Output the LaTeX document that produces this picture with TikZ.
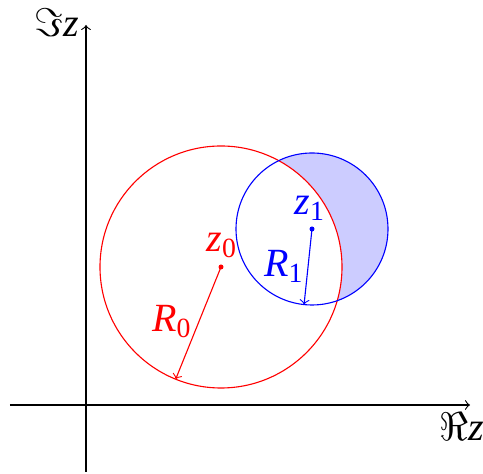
\documentclass[tikz,border=0pt]{standalone}
\usepackage{fontspec}
\setmainfont{Liberation Serif}
\usetikzlibrary{calc}
\newcommand{\lbl}[2]{\textit{#1}\textsubscript{#2}}
\begin{document}
\begin{tikzpicture}[x=0.36pt,y=0.36pt]

\useasboundingbox (-86,-69) rectangle (397,405);

% Centres
\coordinate (z0) at (135,138);
\coordinate (z1) at (226,176);
\coordinate (r0) at ($(z0)+(248:121)$);
\coordinate (r1) at ($(z1)+(264:76)$);

% Region in circle 1 outside circle 0
\begin{scope}
\clip (z1) circle (76);
\fill[blue!20, even odd rule]
(z0) circle (121)
(-86,-69) rectangle (397,405);
\end{scope}

% Axes
\draw[->]
(-76,0)
--
(384,0);

\draw[->]
(0,-67)
--
(0,380);

\node (re) at (376,-22) {\Large $\Re$\textit{z}};
\node (im) at (-29,382) {\Large $\Im$\textit{z}};

% Circle 0
\draw[red]
(z0)
circle (121);

\fill[red] (z0) circle (2.5);

\draw[red,->]
(z0)
--
(r0);

\node[red] (lz0) at (136,160) {\Large \lbl{z}{0}};
\node[red] (lr0) at (86,83) {\Large \lbl{R}{0}};

% Circle 1
\draw[blue]
(z1)
circle (76);

\fill[blue] (z1) circle (2.5);

\draw[blue,->]
(z1)
--
(r1);

\node[blue] (lz1) at (224,197) {\Large \lbl{z}{1}};
\node[blue] (lr1) at (198,139) {\Large \lbl{R}{1}};

\end{tikzpicture}
\end{document}
